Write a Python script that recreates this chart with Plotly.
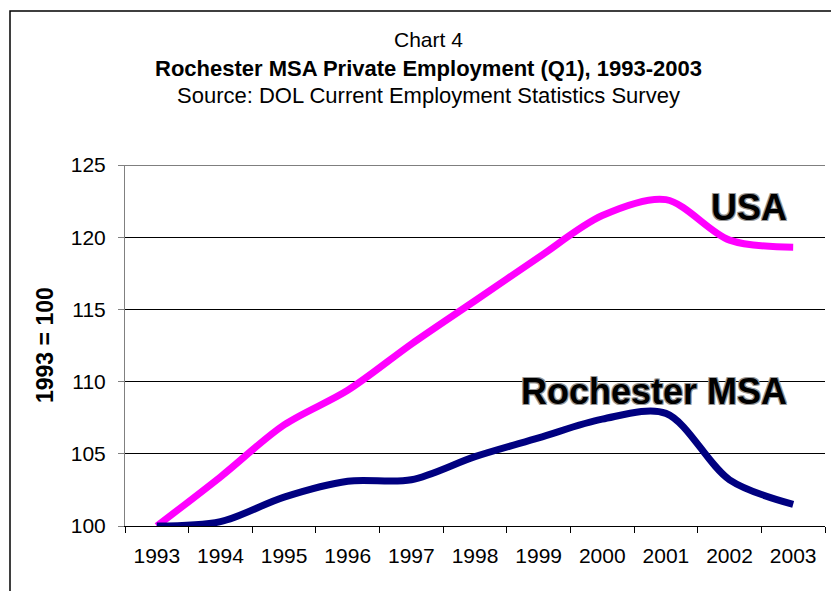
import plotly.graph_objects as go

years = ["1993", "1994", "1995", "1996", "1997", "1998", "1999", "2000", "2001", "2002", "2003"]
usa = [100, 103.4, 107.0, 109.4, 112.6, 115.6, 118.6, 121.5, 122.6, 119.8, 119.3]
rochester = [100, 100.3, 102.0, 103.1, 103.2, 104.8, 106.1, 107.4, 107.8, 103.2, 101.5]
y_ticks = [100, 105, 110, 115, 120, 125]

W, H = 831, 591
L, R, T, B = 125, 6, 165, 65
PW, PH = W - L - R, H - T - B

def px_x(x):
    return (x - L) / PW

def px_y(y):
    return 1 - (y - T) / PH

FONT = "Liberation Sans, Arial, sans-serif"

fig = go.Figure()
fig.add_trace(go.Scatter(x=years, y=usa, mode="lines", name="USA",
                         line=dict(color="#FF00FF", width=7, shape="spline", smoothing=0.9)))
fig.add_trace(go.Scatter(x=years, y=rochester, mode="lines", name="Rochester MSA",
                         line=dict(color="#000080", width=7, shape="spline", smoothing=0.9)))

fig.update_layout(
    width=W, height=H,
    margin=dict(l=L, r=R, t=T, b=B),
    paper_bgcolor="white", plot_bgcolor="white",
    showlegend=False,
    font=dict(family=FONT, size=21, color="black"),
)
fig.update_xaxes(type="category", range=[-0.5, 10.5], tickson="boundaries",
                 ticks="outside", ticklen=6, tickcolor="black",
                 showline=True, linecolor="black", linewidth=1,
                 showgrid=False, tickfont=dict(size=21), ticklabelstandoff=11)
fig.update_yaxes(range=[100, 125], tickvals=y_ticks, ticks="outside", ticklen=6,
                 tickcolor="#808080", showline=True, linecolor="#808080", linewidth=1,
                 showgrid=True, gridcolor="black", gridwidth=1, zeroline=False,
                 tickfont=dict(size=21), ticklabelstandoff=8)

# top gridline at 125
fig.add_shape(type="line", xref="paper", yref="y", x0=0, x1=1, y0=y_ticks[-1], y1=y_ticks[-1],
              line=dict(color="black", width=1))

cx = px_x(428)
fig.add_annotation(text="Chart 4", x=cx, y=px_y(40), xref="paper", yref="paper",
                   showarrow=False, font=dict(size=21), xanchor="center", yanchor="middle")
fig.add_annotation(text="<b>Rochester MSA Private Employment (Q1), 1993-2003</b>", x=cx, y=px_y(68),
                   xref="paper", yref="paper", showarrow=False, font=dict(size=22),
                   xanchor="center", yanchor="middle")
fig.add_annotation(text="Source: DOL Current Employment Statistics Survey", x=cx, y=px_y(95),
                   xref="paper", yref="paper", showarrow=False, font=dict(size=22),
                   xanchor="center", yanchor="middle")
fig.add_annotation(text="<b>1993 = 100</b>", x=px_x(45), y=px_y(345), xref="paper", yref="paper",
                   showarrow=False, textangle=-90, font=dict(size=23),
                   xanchor="center", yanchor="middle")

label_font = dict(family="Liberation Sans, Arial, sans-serif", size=36,
                  color="black",
                  shadow="-1px -1px 0 #999, 1px -1px 0 #999, -1px 1px 0 #999, 1px 1px 0 #999, 0 0 1px #000")
fig.add_annotation(text="<b>USA</b>", x=px_x(789), y=px_y(207), xref="paper", yref="paper",
                   showarrow=False, font=label_font, xanchor="right", yanchor="middle")
fig.add_annotation(text="<b>Rochester MSA</b>", x=px_x(789), y=px_y(391), xref="paper", yref="paper",
                   showarrow=False, font=label_font, xanchor="right", yanchor="middle")

fig.add_shape(type="rect", xref="paper", yref="paper",
              x0=px_x(10), x1=px_x(860), y0=px_y(620), y1=px_y(11),
              line=dict(color="black", width=1.5), fillcolor="rgba(0,0,0,0)", layer="below")

fig.write_html("out.html", config={"displayModeBar": False},
               post_script="document.body.style.margin='0px';")
